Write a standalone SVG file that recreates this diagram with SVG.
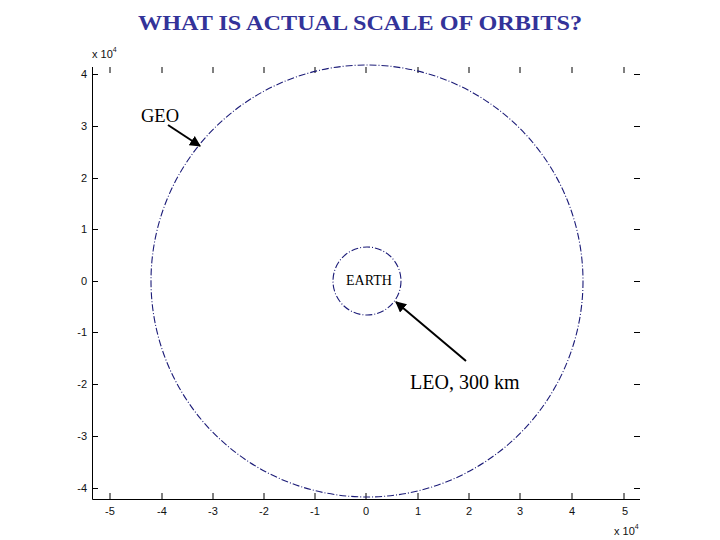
<svg xmlns="http://www.w3.org/2000/svg" width="720" height="540" viewBox="0 0 720 540">
<style>
.tick{stroke:#000;stroke-width:1;fill:none}
.tl{font-family:"Liberation Sans",Arial,sans-serif;font-size:11px;fill:#111}
.orbit{fill:none;stroke:#1c1c78;stroke-width:1.1;stroke-dasharray:7 2 1 2}
.lbl{font-family:"Liberation Serif","Times New Roman",serif;fill:#000}
.arr{stroke:#000;stroke-width:2;fill:none;marker-end:url(#ah)}
</style>
<defs>
<marker id="ah" viewBox="0 0 10 10" refX="9" refY="5" markerWidth="5.5" markerHeight="5.5" orient="auto" markerUnits="strokeWidth">
<path d="M0,0 L10,5 L0,10 z" fill="#000"/>
</marker>
</defs>
<rect width="720" height="540" fill="#fff"/>
<text x="138" y="30" textLength="444" lengthAdjust="spacingAndGlyphs" font-family="Liberation Serif,'Times New Roman',serif" font-size="21" font-weight="bold" fill="#333399">WHAT IS ACTUAL SCALE OF ORBITS?</text>
<g id="axes">
<path class="tick" d="M92.5,67 V499.5 H640"/>
<path class="tick" d="M110,499 v-6 M162,499 v-6 M213,499 v-6 M264,499 v-6 M315,499 v-6 M366,499 v-6 M418,499 v-6 M469,499 v-6 M520,499 v-6 M572,499 v-6 M624,499 v-6"/>
<path class="tick" d="M110,67 v6 M162,67 v6 M213,67 v6 M264,67 v6 M315,67 v6 M366,67 v6 M418,67 v6 M469,67 v6 M520,67 v6 M572,67 v6 M624,67 v6"/>
<path class="tick" d="M92,74.5 h6 M92,126.5 h6 M92,178.5 h6 M92,229.5 h6 M92,281.5 h6 M92,332.5 h6 M92,384.5 h6 M92,436.5 h6 M92,488.5 h6"/>
<path class="tick" d="M640,74.5 h-6 M640,126.5 h-6 M640,178.5 h-6 M640,229.5 h-6 M640,281.5 h-6 M640,332.5 h-6 M640,384.5 h-6 M640,436.5 h-6 M640,488.5 h-6"/>
<g class="tl" text-anchor="end">
<text x="87" y="78">4</text><text x="87" y="130">3</text><text x="87" y="182">2</text><text x="87" y="233">1</text><text x="87" y="285">0</text><text x="87" y="336">-1</text><text x="87" y="388">-2</text><text x="87" y="440">-3</text><text x="87" y="492">-4</text>
</g>
<g class="tl" text-anchor="middle">
<text x="110" y="515">-5</text><text x="162" y="515">-4</text><text x="213" y="515">-3</text><text x="264" y="515">-2</text><text x="315" y="515">-1</text><text x="366" y="515">0</text><text x="418" y="515">1</text><text x="469" y="515">2</text><text x="520" y="515">3</text><text x="572" y="515">4</text><text x="625" y="515">5</text>
</g>
<text class="tl" x="92" y="58">x 10<tspan font-size="7" dy="-6">4</tspan></text>
<text class="tl" x="614" y="535">x 10<tspan font-size="7" dy="-6">4</tspan></text>
</g>
<g id="geo-orbit"><circle class="orbit" cx="367" cy="281" r="216"/></g>
<g id="leo-orbit"><circle class="orbit" cx="367" cy="281" r="34"/></g>
<g id="earth-label"><text class="lbl" x="346" y="285" font-size="14">EARTH</text></g>
<g id="geo-label"><text class="lbl" x="141" y="122" font-size="18.5">GEO</text></g>
<g id="leo-label"><text class="lbl" x="410" y="389" font-size="20">LEO, 300 km</text></g>
<g id="connectors">
<line class="arr" x1="168" y1="125" x2="200" y2="146"/>
<line class="arr" x1="466" y1="361" x2="396" y2="302"/>
</g>
</svg>
